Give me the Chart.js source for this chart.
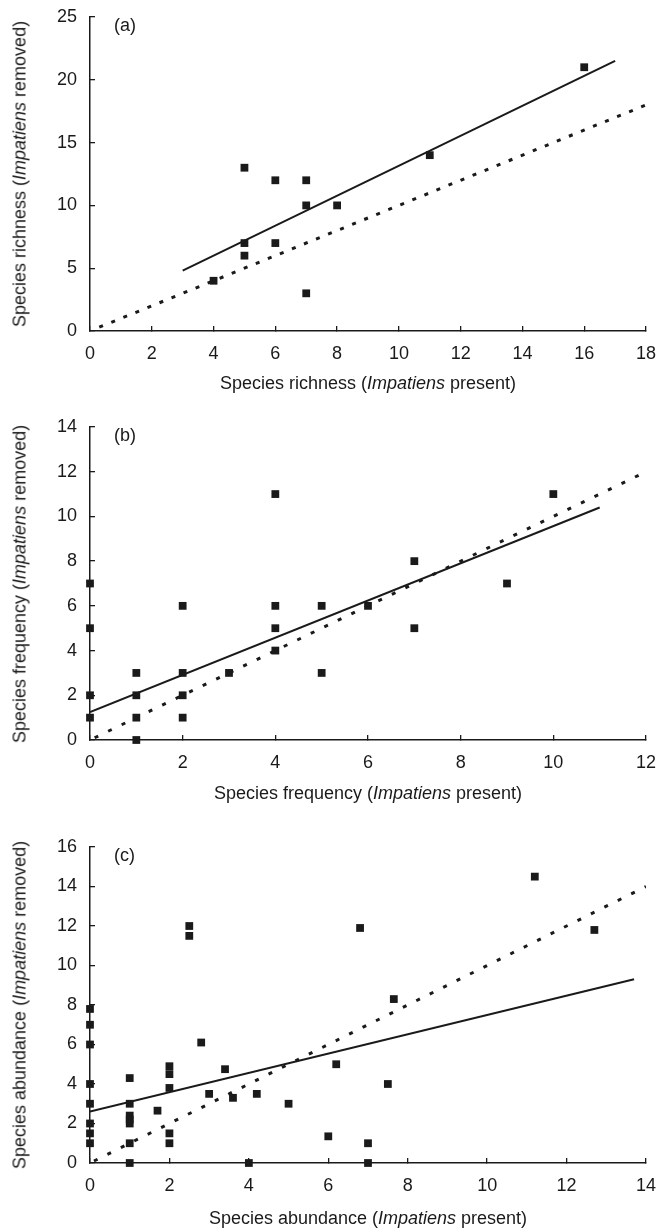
<!DOCTYPE html>
<html>
<head>
<meta charset="utf-8">
<script src="https://cdn.jsdelivr.net/npm/chart.js@4"></script>
<style>
  body { margin: 0; background: #fff; font-family: 'Liberation Sans Narrow', 'Liberation Sans', Arial, sans-serif; color: #1a1a1a; }
  .panel { position: relative; width: 657px; }
  .panel canvas { position: absolute; left: 0; top: 0; }
  .ytitle, .xtitle, .tag { position: absolute; white-space: nowrap; font-size: 18px; }
  .ytitle { transform: translate(-50%, -50%) rotate(-90deg); }
  .xtitle { transform: translate(-50%, -50%); }
  .tag { transform: translateY(-50%); }
</style>
</head>
<body>
<div class="panel" id="pa" style="height:410px"><canvas id="chartA" width="657" height="410"></canvas></div>
<div class="panel" id="pb" style="height:410px"><canvas id="chartB" width="657" height="410"></canvas></div>
<div class="panel" id="pc" style="height:412px"><canvas id="chartC" width="657" height="412"></canvas></div>

<script>
// (a) species richness
const richPresent = [4, 5, 5, 5, 6, 6, 7, 7, 7, 8, 11, 16];
const richRemoved = [4, 13, 7, 6, 12, 7, 12, 10, 3, 10, 14, 21];
const richFitX = [3, 17];
const richFitY = [4.8, 21.5];
const richOneX = [0.3, 18];

// (b) species frequency
const freqPresent = [0, 0, 0, 0, 1, 1, 1, 1, 2, 2, 2, 2, 3, 4, 4, 4, 4, 5, 5, 6, 7, 7, 9, 10];
const freqRemoved = [7, 5, 2, 1, 3, 2, 1, 0, 6, 3, 2, 1, 3, 11, 6, 5, 4, 6, 3, 6, 8, 5, 7, 11];
const freqFitX = [0, 11];
const freqFitY = [1.25, 10.4];
const freqOneX = [0.1, 12];

// (c) species abundance
const abunPresent = [0, 0, 0, 0, 0, 0, 0, 0, 1, 1, 1, 1, 1, 1, 1, 1.7, 2, 2, 2, 2, 2,
  2.5, 2.5, 2.8, 3, 3.4, 3.6, 4, 4.2, 5, 6, 6.2, 6.8, 7, 7, 7.5, 7.65, 11.2, 12.7];
const abunRemoved = [7.8, 7, 6, 4, 3, 2, 1.5, 1, 4.3, 3, 2.4, 2.2, 2, 1, 0, 2.65, 4.9, 4.5, 3.8, 1.5, 1,
  12, 11.5, 6.1, 3.5, 4.75, 3.3, 0, 3.5, 3, 1.35, 5, 11.9, 1, 0, 4, 8.3, 14.5, 11.8];
const abunFitX = [0, 13.7];
const abunFitY = [2.6, 9.3];
const abunOneX = [0.1, 14];

const ink = '#1a1a1a';
const fontFamily = "'Liberation Sans Narrow', 'Liberation Sans', Arial, sans-serif";

function pts(xs, ys) {
  return xs.map((x, i) => ({ x: x, y: ys[i] }));
}

// drop the label overhang so layout.padding alone places the plot area
function noOverhang(s) {
  s.paddingTop = 0; s.paddingBottom = 0; s.paddingLeft = 0; s.paddingRight = 0;
}

function makePanel(cfg) {
  const panel = document.getElementById(cfg.panel);
  const H = panel.offsetHeight;
  const left = 90, right = 646;
  const plotTop = cfg.top, axisY = cfg.axisY;

  // negative tick length puts the tick marks inside the plot, like the original
  const axisOpts = (min, max, step, pad) => ({
    type: 'linear',
    min: min,
    max: max,
    ticks: { stepSize: step, color: ink, padding: pad, font: { family: fontFamily, size: 18 } },
    grid: { display: true, drawOnChartArea: false, drawTicks: true, tickLength: -5, color: ink, lineWidth: 1.3 },
    border: { display: true, color: ink, width: 1.5 }
  });

  const xScale = axisOpts(0, cfg.xMax, 2, 17);
  xScale.afterFit = (s) => { s.height = H - axisY; noOverhang(s); };
  const yScale = axisOpts(0, cfg.yMax, cfg.yStep, 18);
  yScale.afterFit = (s) => { s.width = left; noOverhang(s); };

  new Chart(document.getElementById(cfg.canvas).getContext('2d'), {
    type: 'scatter',
    data: {
      datasets: [
        {
          label: 'points',
          data: pts(cfg.xs, cfg.ys),
          pointStyle: 'rect',
          pointRadius: 5.5,
          pointBackgroundColor: ink,
          pointBorderWidth: 0,
          clip: false
        },
        {
          label: 'fit',
          data: pts(cfg.fitX, cfg.fitY),
          showLine: true,
          pointRadius: 0,
          borderColor: ink,
          borderWidth: 2
        },
        {
          label: '1:1',
          data: pts(cfg.oneX, cfg.oneX),
          showLine: true,
          pointRadius: 0,
          borderColor: ink,
          borderWidth: 3,
          borderDash: cfg.dash,
          borderCapStyle: 'butt'
        }
      ]
    },
    options: {
      responsive: false,
      animation: false,
      layout: { padding: { left: 0, right: 657 - right, top: plotTop, bottom: 0 } },
      plugins: { legend: { display: false }, tooltip: { enabled: false } },
      scales: { x: xScale, y: yScale }
    }
  });

  const yt = document.createElement('div');
  yt.className = 'ytitle';
  yt.style.left = '20px';
  yt.style.top = ((plotTop + axisY) / 2) + 'px';
  yt.innerHTML = cfg.yTitle;
  panel.appendChild(yt);

  const xt = document.createElement('div');
  xt.className = 'xtitle';
  xt.style.left = ((left + right) / 2) + 'px';
  xt.style.top = (axisY + cfg.titleGap) + 'px';
  xt.innerHTML = cfg.xTitle;
  panel.appendChild(xt);

  const tag = document.createElement('div');
  tag.className = 'tag';
  tag.style.left = '114px';
  tag.style.top = (plotTop + 8) + 'px';
  tag.textContent = cfg.tag;
  panel.appendChild(tag);
}

makePanel({
  panel: 'pa', canvas: 'chartA', top: 17, axisY: 331, titleGap: 52,
  xMax: 18, yMax: 25, yStep: 5, dash: [4, 9],
  xs: richPresent, ys: richRemoved, fitX: richFitX, fitY: richFitY, oneX: richOneX,
  tag: '(a)',
  xTitle: 'Species richness (<i>Impatiens</i> present)',
  yTitle: 'Species richness (<i>Impatiens</i> removed)'
});

makePanel({
  panel: 'pb', canvas: 'chartB', top: 17, axisY: 330, titleGap: 53,
  xMax: 12, yMax: 14, yStep: 2, dash: [4, 11],
  xs: freqPresent, ys: freqRemoved, fitX: freqFitX, fitY: freqFitY, oneX: freqOneX,
  tag: '(b)',
  xTitle: 'Species frequency (<i>Impatiens</i> present)',
  yTitle: 'Species frequency (<i>Impatiens</i> removed)'
});

makePanel({
  panel: 'pc', canvas: 'chartC', top: 27, axisY: 343, titleGap: 55,
  xMax: 14, yMax: 16, yStep: 2, dash: [4, 11],
  xs: abunPresent, ys: abunRemoved, fitX: abunFitX, fitY: abunFitY, oneX: abunOneX,
  tag: '(c)',
  xTitle: 'Species abundance (<i>Impatiens</i> present)',
  yTitle: 'Species abundance (<i>Impatiens</i> removed)'
});
</script>
</body>
</html>
